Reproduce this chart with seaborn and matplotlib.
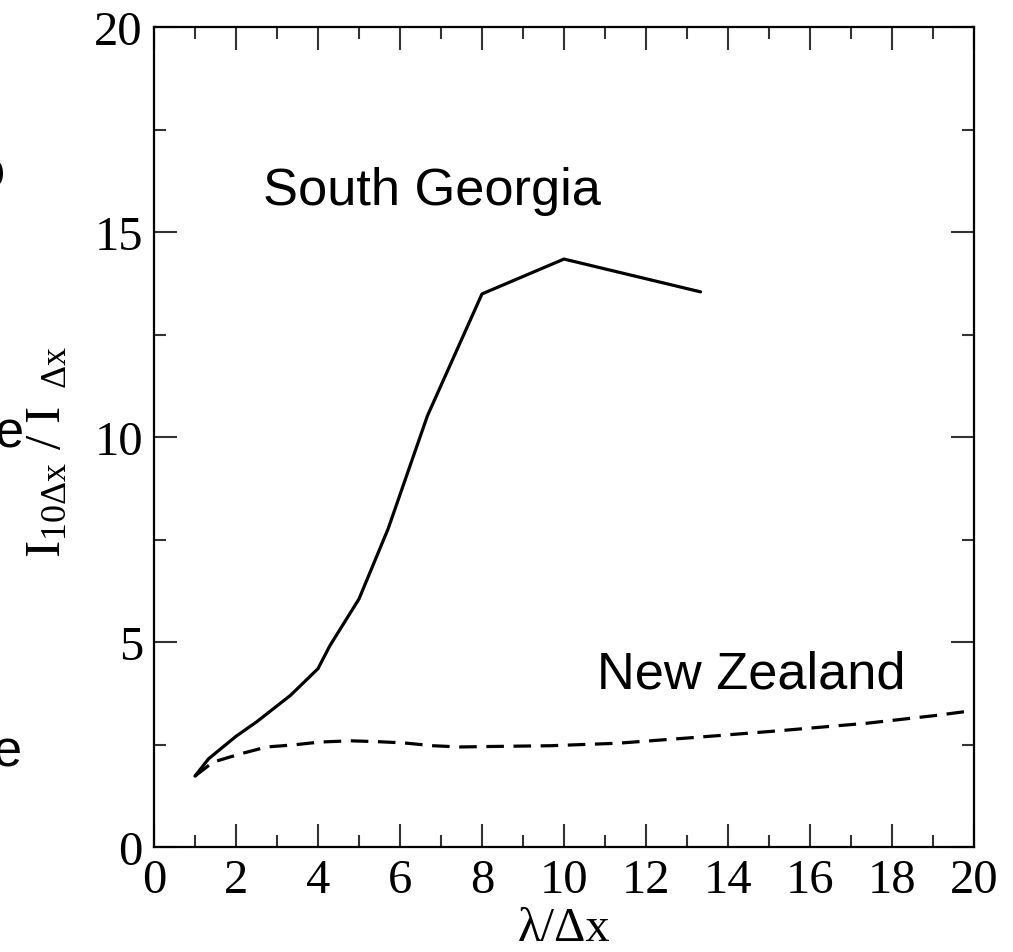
import numpy as np
import pandas as pd
import seaborn as sns
import matplotlib
matplotlib.use("Agg")
import matplotlib.pyplot as plt
from matplotlib.ticker import MultipleLocator

# ---- data ----
sg_x = [1.0, 1.33, 2.0, 2.5, 3.33, 4.0, 4.29, 5.0, 5.71, 6.67, 8.0, 10.0, 13.33]
sg_y = [1.73, 2.15, 2.7, 3.05, 3.7, 4.35, 4.91, 6.05, 7.76, 10.52, 13.49, 14.34, 13.54]

nz_x = [1.0, 1.44, 2.1, 2.75, 3.4, 4.05, 4.78, 5.43, 6.08, 6.8, 7.46, 8.1, 8.85,
        9.66, 11.3, 13.3, 15.3, 17.4, 19.0, 20.0]
nz_y = [1.73, 2.07, 2.27, 2.44, 2.49, 2.56, 2.59, 2.57, 2.54, 2.47, 2.44, 2.45, 2.46,
        2.47, 2.53, 2.68, 2.84, 3.02, 3.20, 3.33]

xticks = [0, 2, 4, 6, 8, 10, 12, 14, 16, 18, 20]
yticks = [0, 5, 10, 15, 20]
labels = ["South Georgia", "New Zealand"]

df_sg = pd.DataFrame({"x": sg_x, "y": sg_y})
df_nz = pd.DataFrame({"x": nz_x, "y": nz_y})

sns.set_style("white")
plt.rcParams["font.family"] = ["Liberation Serif", "DejaVu Serif"]
plt.rcParams["mathtext.fontset"] = "custom"
plt.rcParams["mathtext.rm"] = "Liberation Serif"
plt.rcParams["mathtext.it"] = "Liberation Serif:italic"
plt.rcParams["mathtext.bf"] = "Liberation Serif:bold"
plt.rcParams["text.color"] = "black"
plt.rcParams["axes.labelcolor"] = "black"
plt.rcParams["xtick.color"] = "black"
plt.rcParams["ytick.color"] = "black"

fig = plt.figure(figsize=(10.13, 9.53), dpi=100)
ax = fig.add_axes([154 / 1013, 1 - 848 / 953, 820 / 1013, 820 / 953])

sns.lineplot(data=df_sg, x="x", y="y", ax=ax, color="black", lw=2.3,
             estimator=None, sort=False)
sns.lineplot(data=df_nz, x="x", y="y", ax=ax, color="black", lw=2.3,
             estimator=None, sort=False, dashes=False)
ax.lines[-1].set_dashes((5.5, 3.0))

ax.set_xlim(0, 20)
ax.set_ylim(0, 20)
ax.set_xticks(xticks)
ax.set_yticks(yticks)
ax.xaxis.set_minor_locator(MultipleLocator(1))
ax.yaxis.set_minor_locator(MultipleLocator(2.5))
ax.tick_params(which="both", direction="in", top=True, right=True,
               bottom=True, left=True, color="#333333", labelcolor="black", width=1.5)
ax.tick_params(which="major", length=16.5, labelsize=35, pad=8)
ax.tick_params(which="minor", length=8.5)
for s in ax.spines.values():
    s.set_linewidth(1.6)
    s.set_color("black")

ax.set_xlabel("λ/Δx", fontsize=35, color="black")
ax.xaxis.label.set_va("center")
ax.xaxis.set_label_coords(0.5, (848 - 929) / 820)
ax.set_ylabel(r"$\mathrm{I}_{10\Delta\mathrm{x}}\ /\ \mathrm{I}_{\ \ \Delta\mathrm{x}}$",
              fontsize=37, color="black")
ax.yaxis.label.set_va("center")
ax.yaxis.set_label_coords((48 - 154) / 820, (848 - 452) / 820)

ax.text(6.79, 15.68, labels[0], family="Liberation Sans", fontsize=37.7,
        ha="center", va="baseline", color="black")
ax.text(14.56, 3.89, labels[1], family="Liberation Sans", fontsize=37.7,
        ha="center", va="baseline", color="black")

# cropped letters from the neighbouring panel at the left edge (cut off in the reference too)
for ch, px, py in [("o", -24, 187), ("e", -5, 447), ("e", -7, 767)]:
    fig.text(px / 1013, 1 - py / 953, ch, family="Liberation Sans",
             fontsize=37.7, ha="left", va="baseline", color="black")

fig.savefig("out.png", dpi=100)
